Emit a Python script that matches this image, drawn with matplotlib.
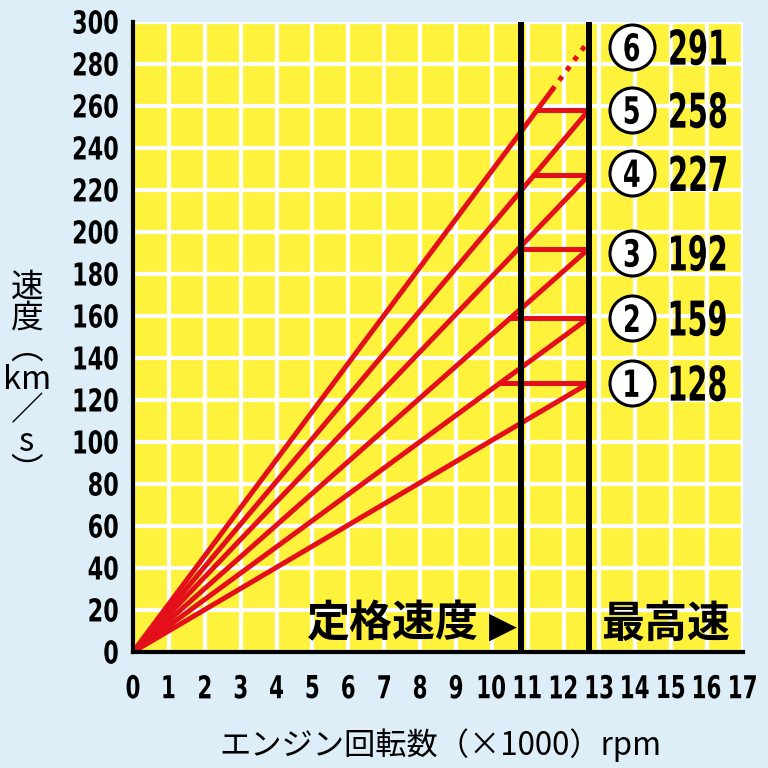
import matplotlib
matplotlib.use("Agg")
import matplotlib.pyplot as plt
from matplotlib.textpath import TextPath
from matplotlib.patches import PathPatch
from matplotlib.font_manager import FontProperties
from matplotlib.transforms import Affine2D

# gear top speeds (km/h) at the rev limit
gears = ["1", "2", "3", "4", "5", "6"]
top_speed = [128, 159, 192, 227, 258, 291]
rev_limit = 12.7      # x1000 rpm, where every gear line ends
rated_rpm = 10.8      # left black line
gear6_solid_to = 11.67  # gear 6 line is dotted after this rpm
label_y = [128, 159, 190, 228, 258, 288]

x_ticks = list(range(0, 18))
y_ticks = list(range(0, 301, 20))

cjk = ["Noto Sans CJK JP", "DejaVu Sans"]
BOLD = FontProperties(family="DejaVu Sans", weight="bold")

BG = "#ddeef8"
YELLOW = "#fff23c"
RED = "#e3101c"

fig = plt.figure(figsize=(7.68, 7.68), dpi=100, facecolor=BG)
ax = fig.add_axes([133/768, 116/768, 610/768, 630/768])
ax.set_facecolor(YELLOW)
ax.set_xlim(0, 17)
ax.set_ylim(0, 300)


def narrow_text(x, y, s, size, sx=0.7, ha="center", dx=0, dy=0, trans=None):
    # condensed bold text: squeeze a text path horizontally
    tp = TextPath((0, 0), s, size=size, prop=BOLD)
    ext = tp.get_extents()
    if ha == "center":
        x0 = (ext.x0 + ext.x1) / 2
    else:
        x0 = ext.x1
    y0 = (ext.y0 + ext.y1) / 2
    px, py = (trans or ax.transData).transform((x, y))
    tr = (Affine2D().translate(-x0, -y0).scale(sx, 1).translate(dx, dy).scale(1/72)
          + fig.dpi_scale_trans + Affine2D().translate(px, py))
    ax.add_artist(PathPatch(tp, transform=tr, facecolor="black", edgecolor="none",
                            zorder=7, clip_on=False))


ax.set_xticks(x_ticks)
ax.set_yticks(y_ticks)
ax.set_xticklabels([])
ax.set_yticklabels([])
ax.grid(True, color="white", linewidth=3, zorder=1)
ax.set_axisbelow(True)
for s in ["top", "right"]:
    ax.spines[s].set_visible(False)
for s in ["left", "bottom"]:
    ax.spines[s].set_linewidth(3)
    ax.spines[s].set_color("black")
    ax.spines[s].set_zorder(6)
ax.tick_params(length=0)

# tick labels (condensed)
xt = ax.get_xaxis_transform()
yt = ax.get_yaxis_transform()
for t in x_ticks:
    narrow_text(t, 0, str(t), 22.7, sx=0.68, dy=-25, trans=xt)
for t in y_ticks:
    narrow_text(0, t, str(t), 22.7, sx=0.71, ha="right", dx=-11, trans=yt)

# gear lines and shift steps
for i, v in enumerate(top_speed):
    if i < len(top_speed) - 1:
        ax.plot([0, rev_limit], [0, v], color=RED, lw=3.6, zorder=3)
        nxt = top_speed[i + 1]
        ax.plot([rev_limit, rev_limit * v / nxt], [v, v], color=RED, lw=3.6, zorder=3)
    else:
        y_cut = v * gear6_solid_to / rev_limit
        ax.plot([0, gear6_solid_to], [0, y_cut], color=RED, lw=3.6, zorder=3)
        ax.plot([gear6_solid_to, rev_limit], [y_cut, v], color=RED, lw=3.6,
                linestyle=(0, (1, 1.5)), zorder=3)

ax.axvline(rated_rpm, color="black", lw=4.3, zorder=4)
ax.axvline(rev_limit, color="black", lw=4.3, zorder=4)

# gear labels on the right
ax.scatter([13.9] * len(gears), label_y, s=1050, facecolor="white",
           edgecolor="black", linewidth=2.2, zorder=5, clip_on=False)
for g, v, ly in zip(gears, top_speed, label_y):
    narrow_text(13.9, ly, g, 27, sx=0.68)
    narrow_text(15.75, ly, str(v), 34.5, sx=0.6)

ax.text(9.62, 13.5, "定格速度", ha="right", va="center", fontsize=31,
        fontweight="bold", family=cjk, zorder=6)
ax.text(10.3, 12, "▶", ha="center", va="center", fontsize=26,
        family=["DejaVu Sans"], zorder=6)
ax.text(14.85, 13.5, "最高速", ha="center", va="center", fontsize=31,
        fontweight="bold", family=cjk, zorder=6)

fig.text(440/768, 1 - 745/768, "エンジン回転数（×1000）rpm", ha="center", va="center",
         fontsize=22.5, family=cjk)
fig.text(27/768, 1 - 380/768, "速\n度\n︵\nkm\n／\ns\n︶", ha="center", va="center",
         fontsize=23.5, family=cjk, linespacing=0.95)

fig.savefig("out.png", dpi=100, facecolor=BG)
